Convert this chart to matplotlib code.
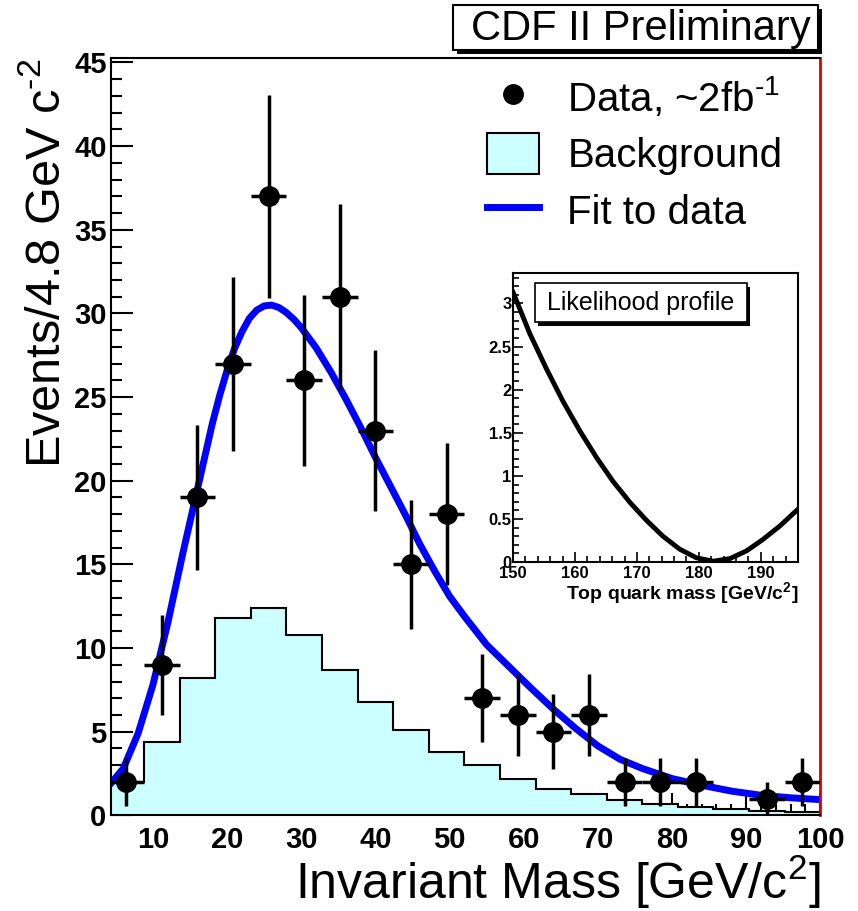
"""CDF II Preliminary: invariant mass spectrum with background, fit and likelihood inset."""

import numpy as np
import matplotlib
matplotlib.use("Agg")
import matplotlib.pyplot as plt
from matplotlib.patches import Rectangle, Patch
from matplotlib.lines import Line2D
from matplotlib.ticker import MultipleLocator

plt.rcParams["font.family"] = ["Liberation Sans", "DejaVu Sans"]
plt.rcParams["mathtext.fontset"] = "custom"
plt.rcParams["mathtext.rm"] = "Liberation Sans"
plt.rcParams["mathtext.it"] = "Liberation Sans:italic"
plt.rcParams["mathtext.bf"] = "Liberation Sans:bold"
plt.rcParams["mathtext.default"] = "regular"

# --- data ---
bin_edges = [4.0, 8.8, 13.6, 18.4, 23.2, 28.0, 32.8, 37.6, 42.4, 47.2, 52.0,
             56.8, 61.6, 66.4, 71.2, 76.0, 80.8, 85.6, 90.4, 95.2, 100.0]
data_counts = [2, 9, 19, 27, 37, 26, 31, 23, 15, 18,
               7, 6, 5, 6, 2, 2, 2, 0, 1, 2]
background = [2.0, 4.4, 8.2, 11.8, 12.4, 10.8, 8.7, 6.8, 5.1, 3.8,
              3.0, 2.2, 1.6, 1.25, 0.9, 0.7, 0.5, 0.35, 0.25, 0.2]

fit_x = [4.3, 6, 8, 10, 12, 14, 16, 18, 19, 20, 21, 22, 23, 24, 25, 26, 27, 28,
         29, 30, 32, 34, 36, 38, 40, 42, 44, 46, 48, 50, 52, 55, 58, 61, 64, 67,
         70, 73, 76, 80, 84, 88, 92, 96, 99.6]
fit_y = [1.9, 2.8, 4.9, 7.8, 11.5, 15.6, 19.5, 23.4, 25.1, 26.6, 27.9, 28.9,
         29.7, 30.2, 30.45, 30.5, 30.35, 30.05, 29.65, 29.15, 27.95, 26.5, 24.9,
         23.2, 21.4, 19.7, 18.0, 16.2, 14.6, 13.1, 11.9, 10.2, 8.9, 7.6, 6.35,
         5.2, 4.15, 3.35, 2.8, 2.2, 1.8, 1.45, 1.2, 1.05, 0.95]

# likelihood profile (inset)
lk_mass = [150.0, 152.7, 155.4, 158.1, 160.8, 163.5, 166.1, 168.9, 171.6,
           174.2, 176.9, 179.6, 182.3, 185.0, 187.7, 190.3, 193.1, 195.8]
lk_value = [3.13, 2.65, 2.24, 1.86, 1.52, 1.21, 0.94, 0.69, 0.48,
            0.30, 0.15, 0.05, 0.01, 0.04, 0.13, 0.26, 0.42, 0.60]

BKG_COLOR = "#ccffff"
FIT_COLOR = "#0000ff"

edges = np.array(bin_edges)
centers = 0.5 * (edges[:-1] + edges[1:])
half_width = 0.5 * (edges[1:] - edges[:-1])
counts = np.array(data_counts, dtype=float)
mask = counts > 0

fig = plt.figure(figsize=(8.58, 9.11), dpi=100)
ax = fig.add_axes([0.129, 0.105, 0.827, 0.831])

# background histogram (fill + outline)
ax.stairs(background, edges, fill=True, facecolor=BKG_COLOR, linewidth=0, zorder=1)
ax.stairs(background, edges, color="black", linewidth=1.5, zorder=1.5)

# fit
ax.plot(fit_x, fit_y, color=FIT_COLOR, linewidth=5, zorder=2)

# data
ax.errorbar(centers[mask], counts[mask], xerr=half_width[mask], yerr=np.sqrt(counts[mask]),
            fmt="o", ms=14, color="black", ecolor="black", elinewidth=2.5,
            capsize=0, zorder=3)

ax.set_xlim(4.3, 100)
ax.set_ylim(0, 45.25)
ax.set_axisbelow(True)
ax.xaxis.set_major_locator(MultipleLocator(10))
ax.xaxis.set_minor_locator(MultipleLocator(2))
ax.yaxis.set_major_locator(MultipleLocator(5))
ax.yaxis.set_minor_locator(MultipleLocator(1))
ax.tick_params(which="both", direction="in", top=False, right=False, width=1.5)
ax.tick_params(which="major", length=16, labelsize=21)
ax.tick_params(which="minor", length=8)
ax.tick_params(axis="x", pad=8)
ax.tick_params(axis="y", pad=3)
for lbl in ax.get_xticklabels() + ax.get_yticklabels():
    lbl.set_fontweight("bold")
for side in ("left", "top", "bottom"):
    ax.spines[side].set_linewidth(1.5)
ax.spines["right"].set_color("#dd0000")
ax.spines["right"].set_linewidth(2)

ax.set_xlabel("Invariant Mass [GeV/c$^2$]", fontsize=36, loc="right")
ax.xaxis.set_label_coords(1.0, -0.049)
ax.set_ylabel("Events/4.8 GeV c$^{\\text{-2}}$", fontsize=35, loc="top")
ax.yaxis.set_label_coords(-0.058, 1.0)

handles = [
    Line2D([], [], marker="o", ls="none", color="black", ms=14),
    Patch(facecolor=BKG_COLOR, edgecolor="black", linewidth=1.5),
    Line2D([], [], color=FIT_COLOR, linewidth=5),
]
labels = ["Data, ~2fb$^{\\text{-1}}$", "Background", "Fit to data"]
ax.legend(handles, labels, loc="upper left", bbox_to_anchor=(0.53, 0.978),
          frameon=False, fontsize=29, handlelength=1.3, handleheight=1.2,
          handletextpad=0.7, labelspacing=0.35, borderpad=0, borderaxespad=0)

# --- inset: likelihood profile ---
axin = fig.add_axes([0.598, 0.383, 0.332, 0.317])
axin.plot(lk_mass, lk_value, color="black", linewidth=3.5)
axin.set_xlim(150, 196)
axin.set_ylim(0, 3.35)
axin.xaxis.set_major_locator(MultipleLocator(10))
axin.xaxis.set_minor_locator(MultipleLocator(2))
axin.yaxis.set_major_locator(MultipleLocator(0.5))
axin.yaxis.set_minor_locator(MultipleLocator(0.1))
axin.yaxis.set_major_formatter(lambda v, p: f"{v:g}")
axin.tick_params(which="both", direction="in", top=False, right=False, width=1.2)
axin.tick_params(which="major", length=7, labelsize=12)
axin.tick_params(which="minor", length=4)
axin.tick_params(axis="x", pad=3)
axin.tick_params(axis="y", pad=1)
for lbl in axin.get_xticklabels() + axin.get_yticklabels():
    lbl.set_fontweight("bold")
for side in axin.spines:
    axin.spines[side].set_linewidth(1.5)
axin.set_xlabel("Top quark mass [GeV/c$^2$]", fontsize=14, fontweight="bold", loc="right")
axin.xaxis.set_label_coords(1.0, -0.062)

axin.add_patch(Rectangle((0.087, 0.818), 0.743, 0.135, transform=axin.transAxes,
                         facecolor="black", edgecolor="none", zorder=4))
axin.add_patch(Rectangle((0.077, 0.83), 0.743, 0.135, transform=axin.transAxes,
                         facecolor="white", edgecolor="black", linewidth=1.2, zorder=5))
axin.text(0.4485, 0.8975, "Likelihood profile", transform=axin.transAxes,
          ha="center", va="center", fontsize=18, zorder=6)

# --- CDF II Preliminary label ---
fig.add_artist(Rectangle((0.5327, 0.9406), 0.425, 0.0494, transform=fig.transFigure,
                         facecolor="black", edgecolor="none"))
fig.add_artist(Rectangle((0.528, 0.945), 0.425, 0.0494, transform=fig.transFigure,
                         facecolor="white", edgecolor="black", linewidth=1.5))
fig.text(0.747, 0.968, "CDF II Preliminary", ha="center", va="center", fontsize=30)

fig.savefig("out.png", dpi=100)
